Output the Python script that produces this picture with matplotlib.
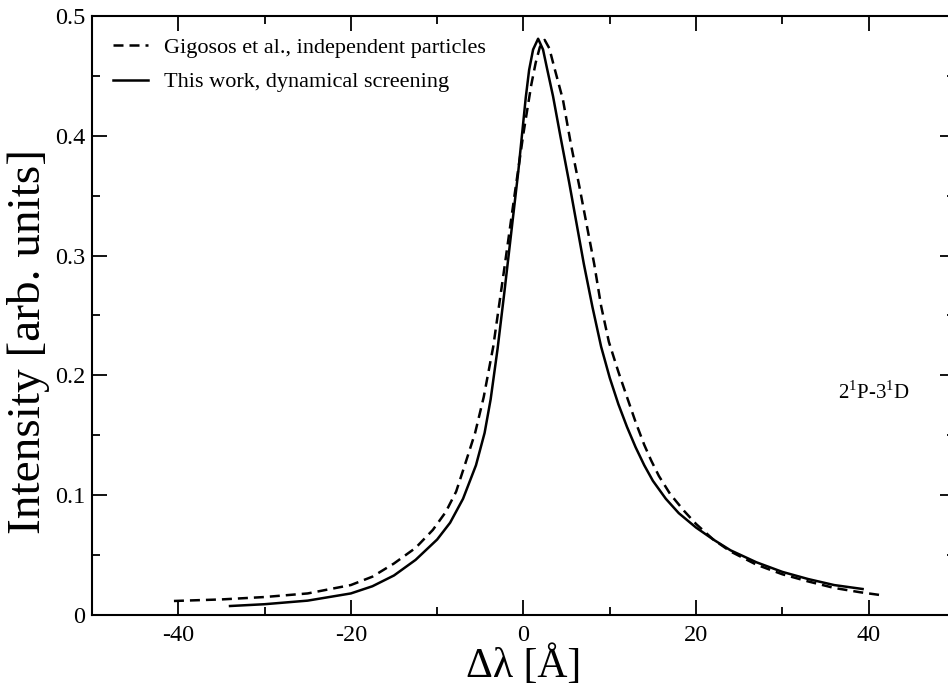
import matplotlib
matplotlib.use("Agg")
import matplotlib.pyplot as plt
from matplotlib.ticker import MultipleLocator

plt.rcParams['font.family'] = ['Liberation Serif', 'DejaVu Serif']
plt.rcParams['mathtext.fontset'] = 'custom'
plt.rcParams['mathtext.rm'] = 'Liberation Serif'
plt.rcParams['axes.unicode_minus'] = False

# Gigosos et al., independent particles (dashed)
gig_x = [-40.5, -35, -30, -25, -20, -17.5, -15, -12.5, -10.5, -9, -7.8, -6.8, -5.6,
         -4.6, -3.5, -2.3, -1.0, 0.0, 0.92, 1.42, 1.9, 2.46, 3.0, 3.54, 4.58, 5.5,
         6.5, 7.4, 8.2, 9.0, 9.9, 11.0, 11.9, 13.0, 14.0, 14.8, 15.7, 17.0, 18.6,
         20.0, 22.0, 24.0, 27.0, 30.0, 33.0, 36.0, 39.0, 41.3]
gig_y = [0.0117, 0.013, 0.015, 0.018, 0.025, 0.032, 0.043, 0.056, 0.071, 0.086,
         0.103, 0.125, 0.152, 0.182, 0.224, 0.285, 0.352, 0.402, 0.443, 0.461, 0.474,
         0.480, 0.473, 0.458, 0.430, 0.393, 0.357, 0.323, 0.293, 0.258, 0.228, 0.203,
         0.184, 0.161, 0.142, 0.129, 0.116, 0.101, 0.087, 0.076, 0.063, 0.053, 0.042,
         0.034, 0.028, 0.0226, 0.019, 0.0167]

# This work, dynamical screening (solid)
dyn_x = [-34, -30, -25, -20, -17.5, -15, -12.5, -10, -8.5, -7, -5.5, -4.5, -3.8, -3.0,
         -2.2, -1.4, -0.6, 0.27, 0.66, 1.12, 1.7, 2.27, 2.74, 3.43, 4.3, 5.3, 6.2,
         7.0, 8.0, 9.0, 10.0, 11.0, 12.0, 13.0, 14.0, 15.0, 16.5, 18.0, 20.0, 22.0,
         24.0, 27.0, 30.0, 33.0, 36.0, 39.3]
dyn_y = [0.0075, 0.009, 0.012, 0.018, 0.024, 0.033, 0.046, 0.063, 0.077, 0.097, 0.125,
         0.152, 0.180, 0.222, 0.270, 0.320, 0.370, 0.432, 0.455, 0.472, 0.481, 0.472,
         0.456, 0.433, 0.399, 0.361, 0.325, 0.293, 0.257, 0.224, 0.198, 0.176, 0.157,
         0.140, 0.125, 0.112, 0.097, 0.085, 0.073, 0.063, 0.054, 0.044, 0.036, 0.030,
         0.025, 0.0217]

fig = plt.figure(figsize=(9.48, 6.86), dpi=100)
ax = fig.add_axes([0.097, 0.1035, 0.9103, 0.8732])

ax.plot(gig_x, gig_y, color='black', lw=1.8, dashes=(4, 2.4),
        label='Gigosos et al., independent particles')
ax.plot(dyn_x, dyn_y, color='black', lw=1.8,
        label='This work, dynamical screening')

ax.set_xlim(-50, 50)
ax.set_ylim(0, 0.5)
ax.xaxis.set_major_locator(MultipleLocator(20))
ax.xaxis.set_minor_locator(MultipleLocator(10))
ax.set_yticks([0, 0.1, 0.2, 0.3, 0.4, 0.5])
ax.set_yticklabels(['0', '0.1', '0.2', '0.3', '0.4', '0.5'])
ax.yaxis.set_minor_locator(MultipleLocator(0.05))

ax.tick_params(which='both', direction='in', top=True, right=True, width=1.3,
               labelsize=17.5)
ax.tick_params(which='major', length=11, pad=7)
ax.tick_params(axis='y', which='major', pad=5)
ax.tick_params(which='minor', length=6)
for s in ax.spines.values():
    s.set_linewidth(1.5)

ax.set_xlabel('Δλ [Å]', fontsize=30, labelpad=0)
ax.set_ylabel('Intensity [arb. units]', fontsize=34)
ax.yaxis.set_label_coords(-0.049, 0.457)

ax.text(0.864, 0.371, r'2$^1$P-3$^1$D', transform=ax.transAxes, fontsize=15,
        va='center', ha='left')

ax.legend(loc='upper left', bbox_to_anchor=(0.024, 0.964), frameon=False,
          fontsize=16, handlelength=1.6, handletextpad=0.7, labelspacing=0.62,
          borderaxespad=0, borderpad=0)

fig.savefig('out.png', dpi=100)
